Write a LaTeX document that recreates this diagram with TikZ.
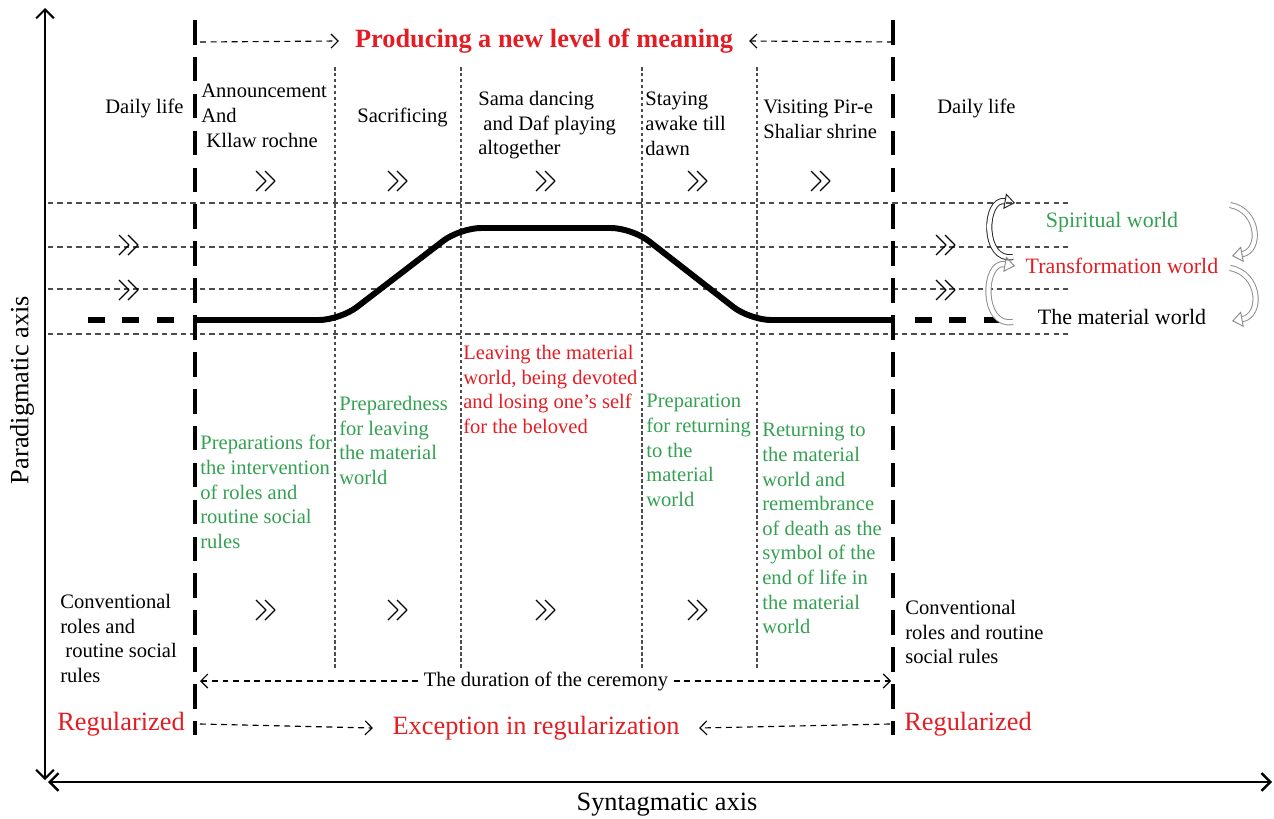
\documentclass[tikz,border=0pt]{standalone}
\usepackage{fontspec}
\setmainfont{Liberation Serif}
\usetikzlibrary{arrows.meta}
\definecolor{wgreen}{RGB}{52,160,82}
\definecolor{wred}{RGB}{226,30,36}
\begin{document}
\begin{tikzpicture}[x=0.02cm,y=-0.02cm,>={Straight Barb[length=4pt,width=8pt]},line join=round,
  txt/.style={inner sep=0pt,font=\fontsize{11.7}{14}\selectfont,align=left,anchor=north west},
  big/.style={inner sep=0pt,font=\fontsize{15}{18}\selectfont},
  world/.style={inner sep=0pt,font=\fontsize{12.5}{15}\selectfont},
  hline/.style={black!70,line width=0.6pt,dash pattern=on 3pt off 2.4pt},
  vdot/.style={black!70,line width=0.6pt,dash pattern=on 2pt off 1.4pt},
  dasharr/.style={->,line width=0.65pt,dash pattern=on 3.4pt off 2.6pt},
  bigdash/.style={line width=2.3pt,dash pattern=on 14pt off 7pt},
  thickdash/.style={line width=3.4pt,dash pattern=on 9.6pt off 10pt},
  hollow/.style={double=white,double distance=2.4pt,line width=0.55pt,-{Triangle[open,length=6pt,width=9pt]}},
  chev/.pic={\draw[line width=0.75pt] (-12,-10)--(-2,0)--(-12,10) (-3,-10)--(7,0)--(-3,10);}]
\useasboundingbox (0,0) rectangle (1274,818);
% axes
\coordinate (ytop) at (45,8);
\coordinate (ybot) at (45,780);
\coordinate (xleft) at (48,782);
\coordinate (xright) at (1272,782);
\draw[{Straight Barb[length=5pt,width=10pt]}-{Straight Barb[length=5pt,width=10pt]},line width=1.2pt] (ybot)--(ytop);
\draw[{Straight Barb[length=5pt,width=10pt]}-{Straight Barb[length=5pt,width=10pt]},line width=1.4pt] (xleft)--(xright);
\node[big,rotate=90] (parad) at (22,390) {Paradigmatic axis};
\node[big] (syntag) at (667,805) {Syntagmatic axis};
% levels and phases
\foreach \y in {203,247,289,334}
  \draw[hline] (48,\y)--(1072,\y);
\foreach \x in {335,461,642,757}
  \draw[vdot] (\x,67)--(\x,668);
\coordinate (ltop) at (195,20);
\coordinate (lbot) at (195,735);
\coordinate (rtop) at (893,20);
\coordinate (rbot) at (893,735);
\draw[bigdash] (ltop)--(lbot);
\draw[bigdash] (rtop)--(rbot);
% the path of the ceremony
\draw[line width=3.4pt,rounded corners=12pt] (195,320)--(340,320)--(460,228)--(632,228)--(750,320)--(893,320);
\draw[thickdash] (88,320)--(180,320);
\draw[thickdash] (915,320)--(1005,320);
\foreach \x in {268,400,548,700,823}
  \pic at (\x,181) {chev};
\foreach \x in {268,400,548,700}
  \pic at (\x,610) {chev};
\foreach \y in {245,290}{
  \pic at (131,\y) {chev};
  \pic at (948,\y) {chev};
}
% top
\node[big,text=wred,inner xsep=9pt] (meaning) at (544,41) {\bfseries Producing a new level of meaning};
\coordinate (mL) at (200,42);
\coordinate (mR) at (893,42);
\draw[dasharr] (mL)--(meaning.west);
\draw[dasharr] (mR)--(meaning.east);
\node[txt] (daily1) at (105,99) {Daily life};
\node[txt] (announce) at (201,84) {Announcement\\And\\\ Kllaw rochne};
\node[txt] (sacrif) at (357,108) {Sacrificing};
\node[txt] (sama) at (478,91) {Sama dancing\\\ and Daf playing\\altogether};
\node[txt] (staying) at (645,92) {Staying\\awake till\\dawn};
\node[txt] (visiting) at (763,100) {Visiting Pir-e\\Shaliar shrine};
\node[txt] (daily2) at (937,99) {Daily life};
% worlds
\node[world,text=wgreen] (spirit) at (1112,222) {Spiritual world};
\node[world,text=wred] (transf) at (1122,266) {Transformation world};
\node[world] (matw) at (1122,317) {The material world};
\coordinate (a1s) at (1013,257);
\coordinate (a1e) at (1015,203);
\coordinate (a2s) at (1013,322);
\coordinate (a2e) at (1015,266);
\coordinate (a3s) at (1230,205);
\coordinate (a3e) at (1232,256);
\coordinate (a4s) at (1230,268);
\coordinate (a4e) at (1232,321);
\draw[hollow,black!85] (a1s) to[out=190,in=170,looseness=1.5] (a1e);
\draw[hollow,black!45] (a2s) to[out=190,in=170,looseness=1.5] (a2e);
\draw[hollow,black!45] (a3s) to[out=-10,in=10,looseness=1.5] (a3e);
\draw[hollow,black!45] (a4s) to[out=-10,in=10,looseness=1.5] (a4e);
% meanings of the phases
\node[txt,text=wred] (leaving) at (463,345) {Leaving the material\\world, being devoted\\and losing one’s self\\for the beloved};
\node[txt,text=wgreen] (prepared) at (339,396) {Preparedness\\for leaving\\the material\\world};
\node[txt,text=wgreen] (prepret) at (646,394) {Preparation\\for returning\\to the\\material\\world};
\node[txt,text=wgreen] (prepint) at (200,435) {Preparations for\\the intervention\\of roles and\\routine social\\rules};
\node[txt,text=wgreen] (returning) at (762,423) {Returning to\\the material\\world and\\remembrance\\of death as the\\symbol of the\\end of life in\\the material\\world};
\node[txt] (conv1) at (60,594) {Conventional\\roles and\\\ routine social\\rules};
\node[txt] (conv2) at (905,600) {Conventional\\roles and routine\\social rules};
% bottom
\node[txt,anchor=center,inner xsep=3pt] (duration) at (546,681) {The duration of the ceremony};
\coordinate (dL) at (200,681);
\coordinate (dR) at (891,681);
\draw[dasharr] (duration.west)--(dL);
\draw[dasharr] (duration.east)--(dR);
\node[big,text=wred] (reg1) at (121,724) {Regularized};
\node[big,text=wred] (reg2) at (968,724) {Regularized};
\node[big,text=wred,inner xsep=11pt] (except) at (536,728) {Exception in regularization};
\coordinate (eL) at (200,724);
\coordinate (eR) at (890,724);
\draw[dasharr] (eL)--(except.west);
\draw[dasharr] (eR)--(except.east);
\end{tikzpicture}
\end{document}
